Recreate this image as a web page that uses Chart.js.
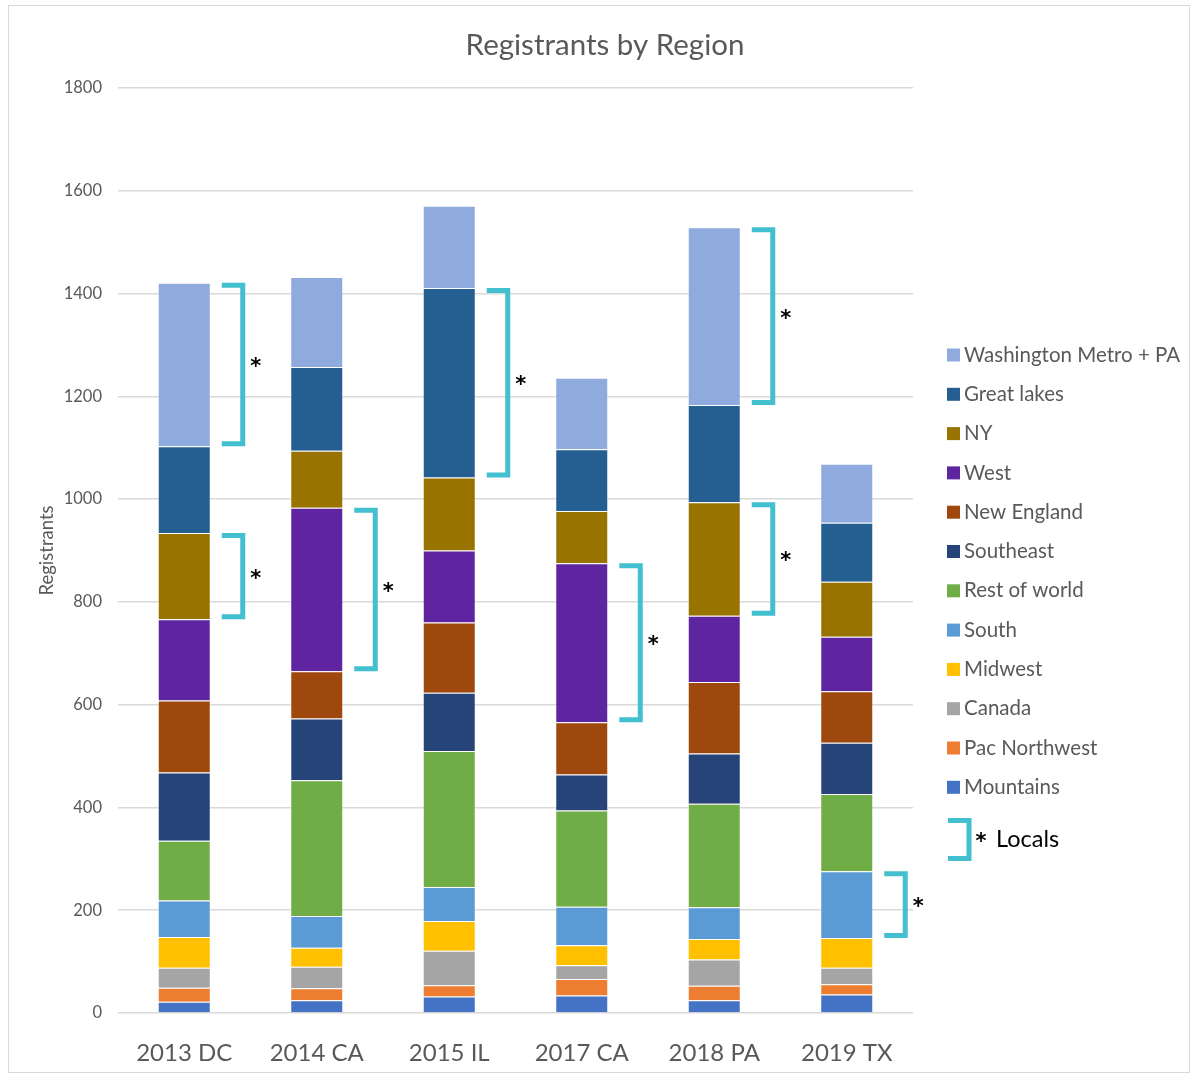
<!DOCTYPE html>
<html>
<head>
<meta charset="utf-8">
<script src="https://cdn.jsdelivr.net/npm/chart.js@4"></script>
<style>
  html, body { margin: 0; padding: 0; background: #fff; }
  #wrap { position: relative; width: 1190px; height: 1074px; }
  #frame { position: absolute; left: 8px; top: 5px; width: 1180px; height: 1066px; border: 1px solid #d9d9d9; pointer-events: none; }
</style>
</head>
<body>
<div id="wrap">
  <canvas id="regionChart" width="1190" height="1074"></canvas>
  <div id="frame"></div>
</div>
<script>
  // Data (registrants per region, per conference)
  const categories = ['2013 DC', '2014 CA', '2015 IL', '2017 CA', '2018 PA', '2019 TX'];
  const mountains    = [22, 25, 32, 34, 25, 36];
  const pacNorthwest = [27, 23, 22, 32, 28, 20];
  const canada       = [39, 42, 67, 27, 51, 32];
  const midwest      = [60, 37, 58, 39, 40, 58];
  const south        = [71, 62, 66, 75, 62, 130];
  const restOfWorld  = [116, 264, 265, 187, 201, 150];
  const southeast    = [133, 120, 113, 70, 98, 100];
  const newEngland   = [140, 92, 137, 102, 139, 100];
  const west         = [158, 318, 140, 309, 129, 106];
  const ny           = [168, 111, 142, 102, 221, 107];
  const greatLakes   = [169, 163, 369, 120, 189, 115];
  const washington   = [318, 175, 160, 139, 346, 115];

  const yMin = 0, yMax = 1800, yStep = 200;
  const chartTitle = 'Registrants by Region';

  // "Locals" brackets: which segment of which bar is marked
  const localsBar    = [0, 0, 1, 2, 3, 4, 4, 5];
  const localsSeries = ['Washington Metro + PA', 'NY', 'West', 'Great lakes', 'West', 'Washington Metro + PA', 'NY', 'South'];

  const series = [
    { label: 'Mountains', data: mountains, color: '#4472C4' },
    { label: 'Pac Northwest', data: pacNorthwest, color: '#ED7D31' },
    { label: 'Canada', data: canada, color: '#A5A5A5' },
    { label: 'Midwest', data: midwest, color: '#FFC000' },
    { label: 'South', data: south, color: '#5B9BD5' },
    { label: 'Rest of world', data: restOfWorld, color: '#70AD47' },
    { label: 'Southeast', data: southeast, color: '#264478' },
    { label: 'New England', data: newEngland, color: '#9E480E' },
    { label: 'West', data: west, color: '#5F249F' },
    { label: 'NY', data: ny, color: '#997300' },
    { label: 'Great lakes', data: greatLakes, color: '#255E91' },
    { label: 'Washington Metro + PA', data: washington, color: '#8FAADC' }
  ];

  const FONT = 'Lato, "Open Sans", sans-serif';
  const STAR_FONT = 'bold 21px "DejaVu Sans", sans-serif';
  const GREY = '#595959';
  const CYAN = '#43C0D0';

  function drawBracket(ctx, x, top, bottom) {
    ctx.save();
    ctx.strokeStyle = CYAN;
    ctx.lineWidth = 5;
    ctx.lineJoin = 'miter';
    ctx.beginPath();
    ctx.moveTo(x, top);
    ctx.lineTo(x + 21, top);
    ctx.lineTo(x + 21, bottom);
    ctx.lineTo(x, bottom);
    ctx.stroke();
    ctx.restore();
  }

  function drawStar(ctx, x, y) {
    ctx.save();
    ctx.fillStyle = '#000';
    ctx.font = STAR_FONT;
    ctx.textAlign = 'center';
    ctx.textBaseline = 'middle';
    ctx.fillText('*', x, y + 3);
    ctx.restore();
  }

  // brackets + asterisks next to the marked segments
  const bracketPlugin = {
    id: 'locals',
    afterDatasetsDraw(chart) {
      const ctx = chart.ctx;
      localsBar.forEach((barIdx, i) => {
        const dsIdx = chart.data.datasets.findIndex(d => d.label === localsSeries[i]);
        const bar = chart.getDatasetMeta(dsIdx).data[barIdx];
        const x0 = bar.x + bar.width / 2 + 11;
        const top = Math.min(bar.y, bar.base) + 2.5;
        const bottom = Math.max(bar.y, bar.base) - 2.5;
        drawBracket(ctx, x0, top, bottom);
        drawStar(ctx, x0 + 34, (top + bottom) / 2);
      });
    }
  };

  // title centred on the whole picture, legend on the right
  const sidePlugin = {
    id: 'sideLegend',
    afterDraw(chart) {
      const ctx = chart.ctx;
      ctx.save();
      ctx.fillStyle = GREY;
      ctx.font = '29.5px ' + FONT;
      ctx.textAlign = 'center';
      ctx.textBaseline = 'middle';
      ctx.fillText(chartTitle, 605, 45);
      ctx.restore();

      const items = chart.data.datasets.slice().reverse();
      const x = 947, y0 = 355, step = 39.3;
      ctx.save();
      ctx.font = '20.5px ' + FONT;
      ctx.textBaseline = 'middle';
      items.forEach((ds, i) => {
        const y = y0 + i * step;
        ctx.fillStyle = ds.backgroundColor;
        ctx.fillRect(x, y - 6.5, 13, 13);
        ctx.fillStyle = GREY;
        ctx.fillText(ds.label, x + 17, y);
      });
      const ly = y0 + items.length * step + 13;
      drawBracket(ctx, 948, ly - 19, ly + 19);
      drawStar(ctx, 981, ly);
      ctx.fillStyle = '#000';
      ctx.font = '23.5px ' + FONT;
      ctx.textAlign = 'left';
      ctx.fillText('Locals', 996, ly);
      ctx.restore();
    }
  };

  const ctx = document.getElementById('regionChart').getContext('2d');
  const regionChart = new Chart(ctx, {
    type: 'bar',
    data: {
      labels: categories,
      datasets: series.map(s => ({
        label: s.label,
        data: s.data,
        backgroundColor: s.color,
        borderColor: 'rgba(255,255,255,0.35)',
        borderWidth: 1,
        barPercentage: 0.4,
        categoryPercentage: 1
      }))
    },
    options: {
      responsive: false,
      animation: false,
      layout: { padding: { left: 30, right: 277, top: 88, bottom: 0 } },
      plugins: {
        legend: { display: false },
        tooltip: { enabled: false },
        title: { display: false }
      },
      scales: {
        x: {
          stacked: true,
          grid: { display: false, drawTicks: false },
          border: { display: false },
          ticks: { color: GREY, font: { family: FONT, size: 24 }, padding: 26 },
          afterFit(scale) { scale.height = 61; }
        },
        y: {
          stacked: true,
          min: yMin,
          max: yMax,
          ticks: {
            stepSize: yStep,
            color: GREY,
            font: { family: FONT, size: 16.5 },
            padding: 16,
            callback: v => String(v)
          },
          grid: { color: '#d9d9d9', lineWidth: 1.5, drawTicks: false },
          border: { display: false },
          title: {
            display: true,
            text: 'Registrants',
            color: GREY,
            font: { family: FONT, size: 18.5 },
            padding: { top: 6, bottom: 0 }
          },
          afterFit(scale) { scale.width = 88; }
        }
      }
    },
    plugins: [bracketPlugin, sidePlugin]
  });
</script>
</body>
</html>
